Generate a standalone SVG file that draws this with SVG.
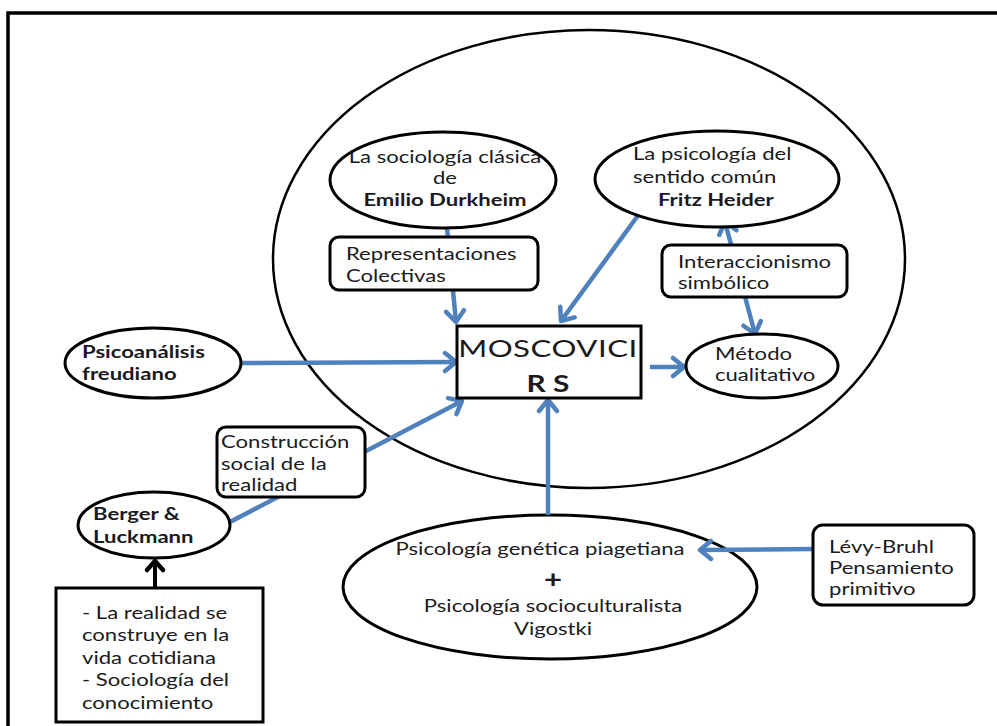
<svg xmlns="http://www.w3.org/2000/svg" width="997" height="726" viewBox="0 0 997 726">
<style>
.t{font-family:Lato,"Liberation Sans",sans-serif;font-size:17px;fill:#1a1a20}
.b{font-weight:bold}
.n{fill:#fff;stroke:#000;stroke-width:3}
.c{stroke:#4F81BD;stroke-width:4.5;fill:none}
</style>
<defs>
<marker id="ah" markerUnits="userSpaceOnUse" markerWidth="24" markerHeight="24" viewBox="0 0 24 24" refX="18" refY="12" orient="auto-start-reverse">
<path d="M7 3 L18 12 L7 21" fill="none" stroke="#4F81BD" stroke-width="4.5" stroke-linecap="round" stroke-linejoin="round"/>
</marker>
<marker id="ahk" markerUnits="userSpaceOnUse" markerWidth="24" markerHeight="24" viewBox="0 0 24 24" refX="18" refY="12" orient="auto">
<path d="M9 4 L18 12 L9 20" fill="none" stroke="#000" stroke-width="4.5" stroke-linecap="round" stroke-linejoin="round"/>
</marker>
</defs>
<rect width="997" height="726" fill="#fff"/>
<path d="M8 740 V13 H1010" fill="none" stroke="#000" stroke-width="3.5"/>
<ellipse cx="589" cy="259" rx="316" ry="229" fill="none" stroke="#000" stroke-width="2.5"/>
<g id="psicologia">
<ellipse class="n" cx="550" cy="587" rx="207" ry="72"/>
<text class="t" text-anchor="middle" transform="translate(540,0) scale(1.3,1)"><tspan x="0" y="555">Psicología genética piagetiana</tspan></text>
<text class="t b" text-anchor="middle" style="font-size:24px" transform="translate(553,0) scale(1.3,1)"><tspan x="0" y="588">+</tspan></text>
<text class="t" text-anchor="middle" transform="translate(553,0) scale(1.3,1)"><tspan x="0" y="612">Psicología socioculturalista</tspan><tspan x="0" y="635">Vigostki</tspan></text>
</g>
<g id="connectors">
<line class="c" x1="447" y1="228" x2="456" y2="322" marker-end="url(#ah)"/>
<line class="c" x1="642" y1="210" x2="561" y2="321" marker-end="url(#ah)"/>
<line class="c" x1="725" y1="222" x2="755" y2="334" marker-start="url(#ah)" marker-end="url(#ah)"/>
<line class="c" x1="650" y1="367" x2="684" y2="367" marker-end="url(#ah)"/>
<line class="c" x1="242" y1="363" x2="456" y2="362" marker-end="url(#ah)"/>
<line class="c" x1="228" y1="523" x2="462" y2="401" marker-end="url(#ah)"/>
<line class="c" x1="548" y1="515" x2="548" y2="400" marker-end="url(#ah)"/>
<line class="c" x1="813" y1="549" x2="700" y2="550" marker-end="url(#ah)"/>
<line x1="155" y1="588" x2="155" y2="561" stroke="#000" stroke-width="4" marker-end="url(#ahk)"/>
</g>
<g id="durkheim">
<ellipse class="n" cx="443" cy="180" rx="113" ry="48"/>
<text class="t" text-anchor="middle" transform="translate(445,0) scale(1.3,1)"><tspan x="0" y="163">La sociología clásica</tspan><tspan x="0" y="184">de</tspan><tspan x="0" y="206" class="b">Emilio Durkheim</tspan></text>
</g>
<g id="representaciones">
<rect class="n" x="330" y="237" width="208" height="53" rx="9"/>
<text class="t" transform="translate(346,0) scale(1.3,1)"><tspan x="0" y="260">Representaciones</tspan><tspan x="0" y="282">Colectivas</tspan></text>
</g>
<g id="heider">
<ellipse class="n" cx="717" cy="179" rx="122" ry="48"/>
<text class="t" transform="translate(633,0) scale(1.3,1)"><tspan x="0" y="160">La psicología del</tspan><tspan x="0" y="183">sentido común</tspan></text>
<text class="t b" transform="translate(658,0) scale(1.3,1)"><tspan x="0" y="206">Fritz Heider</tspan></text>
</g>
<g id="interaccionismo">
<rect class="n" x="662" y="245" width="185" height="52" rx="9"/>
<text class="t" transform="translate(678,0) scale(1.3,1)"><tspan x="0" y="268">Interaccionismo</tspan><tspan x="0" y="289">simbólico</tspan></text>
</g>
<g id="metodo">
<ellipse class="n" cx="762" cy="366" rx="76" ry="32"/>
<text class="t" transform="translate(715,0) scale(1.3,1)"><tspan x="0" y="360">Método</tspan><tspan x="0" y="381">cualitativo</tspan></text>
</g>
<g id="moscovici">
<rect class="n" x="457" y="326" width="184" height="72" stroke-width="3.5"/>
<text class="t" text-anchor="middle" style="font-size:24px;letter-spacing:0.4px" transform="translate(548,0) scale(1.3,1)"><tspan x="0" y="357">MOSCOVICI</tspan></text>
<text class="t b" text-anchor="middle" style="font-size:23px" transform="translate(548,0) scale(1.3,1)"><tspan x="0" y="392">R S</tspan></text>
</g>
<g id="psicoanalisis">
<ellipse class="n" cx="153" cy="363" rx="88" ry="35"/>
<text class="t b" transform="translate(82,0) scale(1.3,1)"><tspan x="0" y="358">Psicoanálisis</tspan><tspan x="0" y="380">freudiano</tspan></text>
</g>
<g id="construccion">
<rect class="n" x="217" y="427" width="148" height="70" rx="9"/>
<text class="t" transform="translate(221,0) scale(1.3,1)"><tspan x="0" y="448">Construcción</tspan><tspan x="0" y="470">social de la</tspan><tspan x="0" y="491">realidad</tspan></text>
</g>
<g id="berger">
<ellipse class="n" cx="154" cy="525" rx="76" ry="33"/>
<text class="t b" transform="translate(93,0) scale(1.3,1)"><tspan x="0" y="520">Berger &amp;</tspan><tspan x="0" y="543">Luckmann</tspan></text>
</g>
<g id="realidad">
<rect class="n" x="56" y="588" width="207" height="134"/>
<text class="t" transform="translate(82,0) scale(1.3,1)"><tspan x="0" y="619">- La realidad se</tspan><tspan x="0" y="641.5">construye en la</tspan><tspan x="0" y="664">vida cotidiana</tspan><tspan x="0" y="686.5">- Sociología del</tspan><tspan x="0" y="709">conocimiento</tspan></text>
</g>
<g id="levybruhl">
<rect class="n" x="813" y="525" width="161" height="80" rx="10"/>
<text class="t" transform="translate(829,0) scale(1.3,1)"><tspan x="0" y="553">Lévy-Bruhl</tspan><tspan x="0" y="574">Pensamiento</tspan><tspan x="0" y="595">primitivo</tspan></text>
</g>
</svg>
